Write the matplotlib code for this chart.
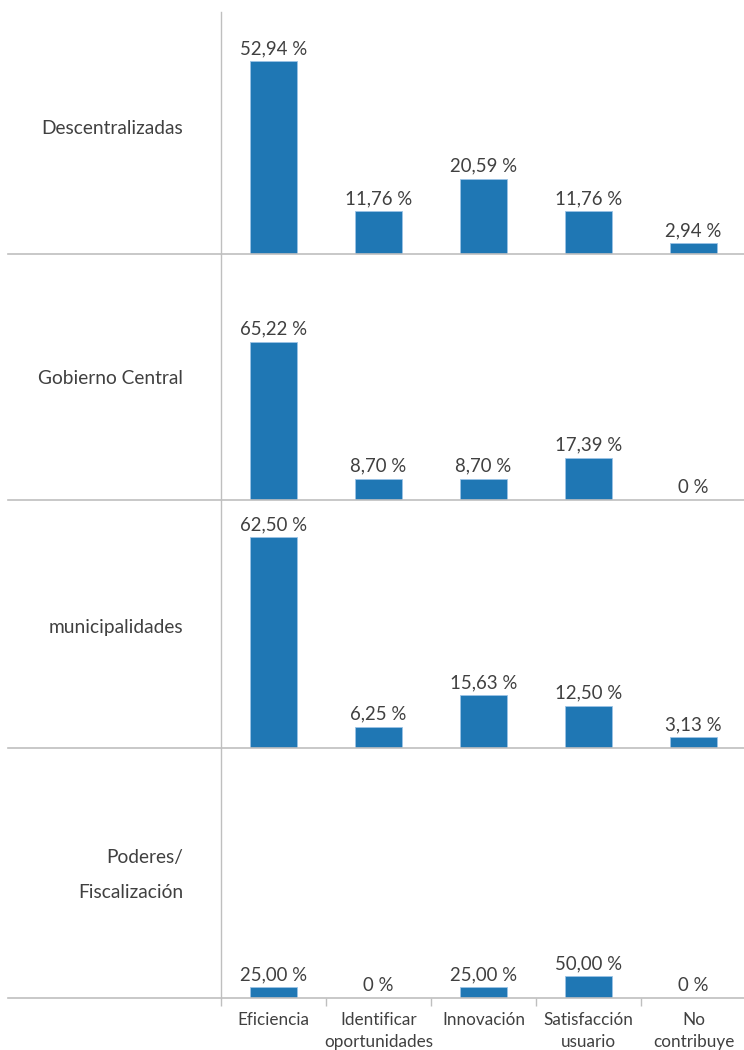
import matplotlib
matplotlib.use("Agg")
import matplotlib.pyplot as plt
from matplotlib.lines import Line2D
import numpy as np

plt.rcParams['font.family'] = ['Lato', 'DejaVu Sans']

categories = ["Eficiencia", "Identificar\noportunidades", "Innovación",
              "Satisfacción\nusuario", "No\ncontribuye"]
groups = ["Descentralizadas", "Gobierno Central", "municipalidades",
          "Poderes/\nFiscalización"]

descentralizadas = [52.94, 11.76, 20.59, 11.76, 2.94]
gobierno_central = [65.22, 8.70, 8.70, 17.39, 0.0]
municipalidades = [62.50, 6.25, 15.63, 12.50, 3.13]
poderes_fiscalizacion = [25.00, 0.0, 25.00, 50.00, 0.0]
series = [descentralizadas, gobierno_central, municipalidades, poderes_fiscalizacion]

# each panel has its own value scale
panel_ymax = [66.4, 101.5, 73.5, 580.0]

BAR = "#1f77b4"
EDGE = "#9cc3e5"
GRID = "#bfbfbf"
TXT = "#404040"

W, H = 744, 1050
fig = plt.figure(figsize=(W / 100, H / 100), dpi=100)

# panel bounds and group-name heights, in pixels from the top of the figure
bounds = [(12, 254), (254, 500), (500, 748), (748, 998)]
name_y = [129, 378, 627, 875]
x_left, x_right = 221, 746

def fmt(v):
    if v == 0:
        return "0 %"
    return f"{v:.2f}".replace(".", ",") + " %"

x = np.arange(len(categories))
axes = []
for i, ((top, bot), vals, name, ymax, ny) in enumerate(
        zip(bounds, series, groups, panel_ymax, name_y)):
    ax = fig.add_axes([x_left / W, 1 - bot / H, (x_right - x_left) / W, (bot - top) / H])
    axes.append(ax)
    bars = ax.bar(x, vals, width=0.45, color=BAR, edgecolor=EDGE, linewidth=0.6, zorder=2)
    ax.set_xlim(-0.5, len(categories) - 0.5)
    ax.set_ylim(0, ymax)
    for b, v in zip(bars, vals):
        ax.annotate(fmt(v), (b.get_x() + b.get_width() / 2, v),
                    xytext=(0, 3), textcoords="offset points",
                    ha="center", va="bottom", fontsize=13.4, color=TXT)
    for s in ("top", "right", "bottom"):
        ax.spines[s].set_visible(False)
    ax.spines["left"].set_color(GRID)
    ax.spines["left"].set_linewidth(1.0)
    ax.set_yticks([])
    # group name, right aligned left of the axis
    fig.text(183 / W, 1 - ny / H, name, ha="right", va="center",
             fontsize=13.8, color=TXT, linespacing=2.25)
    # separator line under each panel
    fig.add_artist(Line2D([8 / W, 1.0], [1 - bot / H, 1 - bot / H],
                          transform=fig.transFigure, color=GRID, linewidth=1.2))
    if i < 3:
        ax.set_xticks([])

ax = axes[-1]
ax.set_xticks(x)
ax.set_xticklabels(categories, fontsize=12.3, color=TXT, linespacing=1.5)
ax.tick_params(axis="x", which="major", length=0, pad=10)
ax.set_xticks(np.arange(-0.5, len(categories), 1.0), minor=True)
ax.tick_params(axis="x", which="minor", length=6, color=GRID, width=1)

fig.savefig("out.png", dpi=100)
